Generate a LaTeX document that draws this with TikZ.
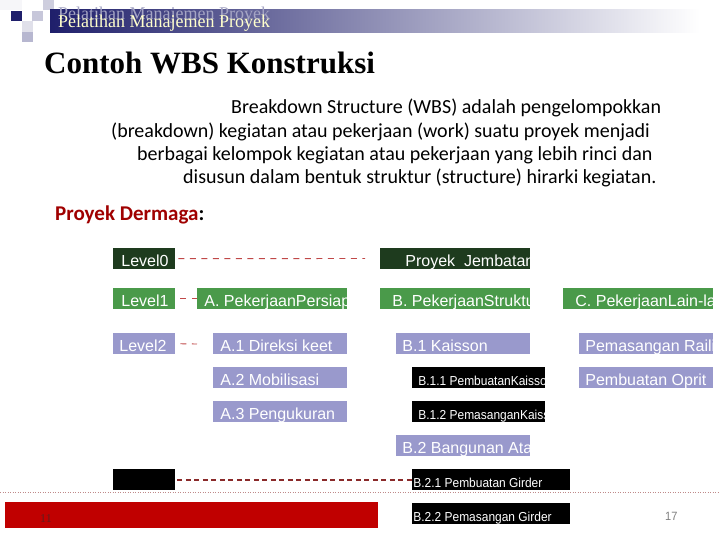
\documentclass[tikz,border=0pt]{standalone}
\usepackage{fontspec}
\setmainfont{Liberation Serif}
\newfontfamily\calfont{Carlito}
\newfontfamily\arlfont{Liberation Sans}
\newfontfamily\arlnarrow[FakeStretch=0.92]{Liberation Sans}
\definecolor{dkgreen}{HTML}{1E3B1E}
\definecolor{mdgreen}{HTML}{4A9A4A}
\definecolor{lavender}{HTML}{9999CC}
\definecolor{navy}{HTML}{1F1F6B}
\definecolor{redbar}{HTML}{C00000}
\definecolor{dashred}{HTML}{C04848}
\definecolor{dashdark}{HTML}{8A2A2A}
\definecolor{hdryellow}{HTML}{FFFFCC}
\definecolor{titlered}{HTML}{A00000}
\tikzset{
  box/.style={draw=none, inner sep=0pt, minimum height=21pt, anchor=north west},
  boxtext/.style={anchor=base west, inner sep=0pt, minimum width=0pt, minimum height=0pt, fill=none, draw=none},
  bigtxt/.style={font=\arlfont\fontsize{16}{16}\selectfont, text=white},
  smalltxt/.style={font=\arlnarrow\fontsize{13}{13}\selectfont, text=white},
  rdash/.style={draw=dashred, line width=0.9pt, dash pattern=on 6pt off 5.5pt},
  bdash/.style={draw=dashdark, line width=2pt, dash pattern=on 5pt off 3.5pt},
  para/.style={anchor=base west, inner sep=0pt, font=\calfont\fontsize{20}{20}\selectfont},
}
% #1 name, #2 nw corner, #3 width, #4 fill, #5 text style, #6 text x offset, #7 text
\newcommand\wbox[7]{%
  \node[box, fill=#4, minimum width=#3,
    path picture={\node[boxtext, #5]
      at ([xshift=#6, yshift=2.5pt]path picture bounding box.south west) {#7};}]
    (#1) at #2 {};}
\begin{document}
\begin{tikzpicture}[x=1pt,y=-1pt]
\useasboundingbox (0,0) rectangle (720,540);
\fill[white] (0,0) rectangle (720,540);
% header decoration
\fill[navy!4] (0,0) rectangle (22,10);
\fill[navy!22] (43,0) rectangle (54,10);
\fill[navy] (11,11) rectangle (22,21);
\fill[navy!25] (32,11) rectangle (43,21);
\fill[navy!14] (22,21) rectangle (33,32);
\fill[navy!32] (22,32) rectangle (33,42);
\shade[left color=navy, right color=white] (50,10) rectangle (700,33);
\node[anchor=base west, inner sep=0pt, text=navy!40, font=\fontsize{18}{18}\selectfont] (ghost) at (58,20) {Pelatihan Manajemen Proyek};
\node[anchor=base west, inner sep=0pt, text=hdryellow, font=\fontsize{18}{18}\selectfont] (hdr) at (58,28) {Pelatihan Manajemen Proyek};
% title
\node[anchor=base west, inner sep=0pt, font=\bfseries\fontsize{31}{31}\selectfont] (title) at (44,74) {Contoh WBS Konstruksi};
% paragraph
\node[para] (p1) at (231,114) {Breakdown Structure (WBS) adalah pengelompokkan};
\node[para] (p2) at (111,138) {(breakdown) kegiatan atau pekerjaan (work) suatu proyek menjadi};
\node[para] (p3) at (137,161) {berbagai kelompok kegiatan atau pekerjaan yang lebih rinci dan};
\node[para] (p4) at (183,184) {disusun dalam bentuk struktur (structure) hirarki kegiatan.};
\node[para, font=\calfont\bfseries\fontsize{21}{21}\selectfont] (pd) at (55,221) {\textcolor{titlered}{Proyek Dermaga}:};
% WBS boxes
\wbox{l0}{(113,248)}{62pt}{dkgreen}{bigtxt}{8pt}{Level0}
\wbox{pj}{(380,248)}{150pt}{dkgreen}{bigtxt}{25pt}{Proyek\ \ Jembatan}
\wbox{l1}{(113,288)}{62pt}{mdgreen}{bigtxt}{8pt}{Level1}
\wbox{pa}{(197,288)}{150pt}{mdgreen}{bigtxt}{7pt}{A. PekerjaanPersiapan}
\wbox{pb}{(380,288)}{150pt}{mdgreen}{bigtxt}{12pt}{B. PekerjaanStruktur}
\wbox{pc}{(563,288)}{150pt}{mdgreen}{bigtxt}{12pt}{C. PekerjaanLain-lain}
\wbox{l2}{(113,333)}{62pt}{lavender}{bigtxt}{6pt}{Level2}
\wbox{a1}{(213,333)}{134pt}{lavender}{bigtxt}{7pt}{A.1 Direksi keet}
\wbox{b1}{(396,333)}{134pt}{lavender}{bigtxt}{6pt}{B.1 Kaisson}
\wbox{cr}{(579,333)}{134pt}{lavender}{bigtxt}{6pt}{Pemasangan Railing}
\wbox{a2}{(213,367)}{134pt}{lavender}{bigtxt}{7pt}{A.2 Mobilisasi}
\wbox{b11}{(412,367)}{133pt}{black}{smalltxt}{6pt}{B.1.1 PembuatanKaisson}
\wbox{co}{(579,367)}{134pt}{lavender}{bigtxt}{6pt}{Pembuatan Oprit}
\wbox{a3}{(213,401)}{134pt}{lavender}{bigtxt}{7pt}{A.3 Pengukuran}
\wbox{b12}{(412,401)}{133pt}{black}{smalltxt}{6pt}{B.1.2 PemasanganKaisson}
\wbox{b2}{(396,435)}{134pt}{lavender}{bigtxt}{6pt}{B.2 Bangunan Atas}
\wbox{bk}{(113,469)}{62pt}{black}{smalltxt}{6pt}{}
\wbox{b21}{(412,469)}{158pt}{black}{smalltxt}{1pt}{B.2.1 Pembuatan Girder}
% connectors
\coordinate (d0) at (365,258.5);
\coordinate (d2) at (197,344);
\draw[rdash, shorten <=3pt] (l0.east) -- (d0);
\draw[rdash, shorten <=5pt] (l1.east) -- (pa.west);
\draw[rdash, shorten <=5pt] (l2.east) -- (d2);
\draw[bdash, shorten <=2pt] (bk.east) -- (b21.west);
% footer
\coordinate (fl) at (0,492);
\coordinate (fr) at (720,492);
\draw[draw=dashdark!55, line width=1pt, dash pattern=on 1pt off 1.5pt] (fl) -- (fr);
\fill[redbar] (5,502) rectangle (378,528);
\node[anchor=base west, inner sep=0pt, text=dashdark!70!black, font=\fontsize{12}{12}\selectfont] (n11) at (40,522) {11};
\wbox{b22}{(412,503)}{158pt}{black}{smalltxt}{1pt}{B.2.2 Pemasangan Girder}
\node[anchor=base west, inner sep=0pt, text=gray, font=\arlnarrow\fontsize{12}{12}\selectfont] (n17) at (665,520) {17};
\end{tikzpicture}
\end{document}
